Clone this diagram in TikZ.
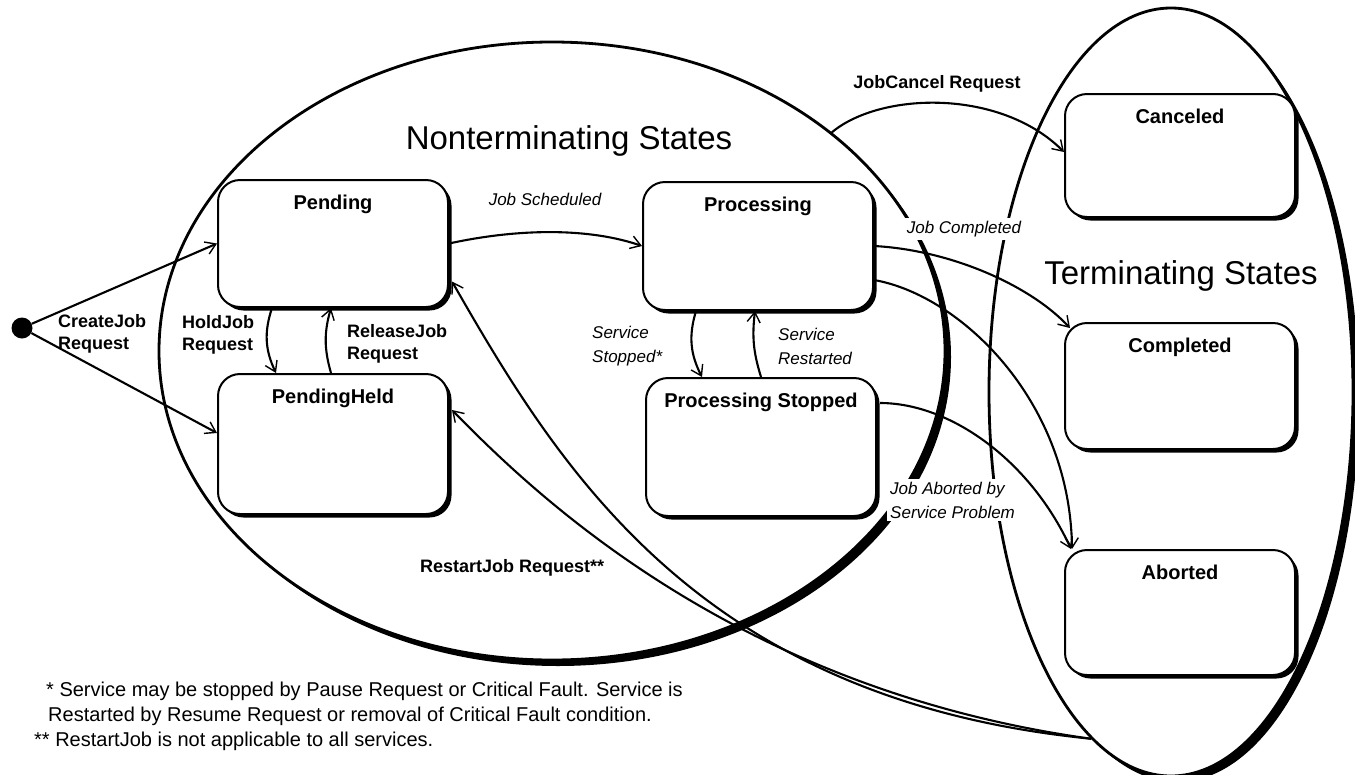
\documentclass[tikz,border=0pt]{standalone}
\usepackage{fontspec}
\setmainfont{Liberation Sans}
\usetikzlibrary{arrows.meta,shadows,shapes.geometric,calc}
\begin{document}
\begin{tikzpicture}[x=1pt,y=-1pt,
  superstate/.style={ellipse, draw, line width=2.8pt, fill=white, inner sep=0pt,
     drop shadow={shadow xshift=6pt, shadow yshift=-6pt, fill=black, opacity=1}},
  statebox/.style={rectangle, draw, line width=2pt, rounded corners=22pt, fill=white,
     minimum width=230pt, inner sep=0pt,
     drop shadow={shadow xshift=3.5pt, shadow yshift=-3.5pt, fill=black, opacity=1}},
  statename/.style={anchor=north, yshift=-16pt, inner sep=0pt,
     font=\fontsize{20}{24}\selectfont\bfseries},
  title/.style={font=\fontsize{33}{38}\selectfont, inner sep=0pt},
  tr/.style={line width=2.1pt, -{Straight Barb[length=10pt,width=13pt,line width=1.4pt]}},
  lb/.style={font=\fontsize{18}{21.5}\selectfont\bfseries, align=left, inner sep=1pt},
  li/.style={font=\fontsize{17}{24}\selectfont\itshape, align=left, inner sep=1pt},
  note/.style={font=\fontsize{20}{24.5}\selectfont, align=left, inner sep=0pt},
  initdot/.style={circle, fill=black, minimum size=21pt, inner sep=0pt}
]
\useasboundingbox (0,0) rectangle (1355,774);
\fill[white] (0,0) rectangle (1355,774);

% super states
\node[superstate, minimum width=786pt, minimum height=618pt] (nonterm) at (552,351) {};
\node[superstate, minimum width=364pt, minimum height=768pt] (term) at (1171,392) {};

\node[title] (ntitle) at (569,141) {Nonterminating States};
\node[title] (ttitle) at (1181,276) {Terminating States};

% states
\node[statebox, minimum height=127pt, label={[statename]north:Pending}] (pending) at (333,243.5) {};
\node[statebox, minimum height=140pt, label={[statename]north:PendingHeld}] (pheld) at (333,444) {};
\node[statebox, minimum height=128pt, label={[statename]north:Processing}] (proc) at (758,246) {};
\node[statebox, minimum height=138pt, label={[statename]north:Processing Stopped}] (pstop) at (761,447) {};
\node[statebox, minimum height=123pt, label={[statename]north:Canceled}] (canceled) at (1180,155.5) {};
\node[statebox, minimum height=126pt, label={[statename]north:Completed}] (completed) at (1180,386) {};
\node[statebox, minimum height=125pt, label={[statename]north:Aborted}] (aborted) at (1180,612.5) {};

\node[initdot] (init) at (22,328) {};

% connectors
\draw[tr] (init) -- (pending.west);
\draw[tr] (init) -- ([yshift=11pt]pheld.west);
\draw[tr] ([xshift=55pt]pending.south west) to[bend right=22] ([xshift=59pt]pheld.north west);
\draw[tr] ([xshift=114pt]pheld.north west) to[bend left=16] ([xshift=114pt]pending.south west);
\draw[tr] (pending.east) .. controls (520,228) and (590,228) .. (proc.west);
\draw[tr] ([xshift=54pt]proc.south west) to[bend right=22] ([xshift=57pt]pstop.north west);
\draw[tr] ([xshift=116pt]pstop.north west) to[bend left=12] ([xshift=113pt]proc.south west);
\draw[tr] (nonterm.38.8) .. controls (880,92) and (1000,88) .. ([yshift=3.5pt]canceled.west);
\draw[tr] (proc.east) .. controls (950,250) and (1030,285) .. ([xshift=6pt,yshift=-6pt]completed.north west);
\draw[tr] ([yshift=-34pt]proc.east) .. controls (960,295) and (1070,400) .. ([xshift=8pt]aborted.north west);
\draw[tr] ([xshift=3pt,yshift=44pt]pstop.east) .. controls (950,403) and (1030,460) .. ([xshift=7pt]aborted.north west);
\draw[tr] (term.257.3) .. controls (700,700) and (560,470) .. ([xshift=3pt,yshift=-38pt]pending.east);
\draw[tr] (term.257.3) .. controls (740,690) and (540,500) .. ([xshift=3pt,yshift=34pt]pheld.east);

% labels
\node[lb, anchor=west] (lcreate) at (57,334) {CreateJob\\Request};
\node[lb, anchor=west] (lhold) at (181,335) {HoldJob\\Request};
\node[lb, anchor=west] (lrelease) at (346,344) {ReleaseJob\\Request};
\node[li, anchor=west] (lsstop) at (591,346) {Service\\Stopped*};
\node[li, anchor=west] (lsrest) at (777,346) {Service\\Restarted};
\node[li] (lsched) at (545,199) {Job Scheduled};
\node[li, fill=white, inner sep=3pt] (lcomp) at (964,229) {Job Completed};
\node[li, anchor=west, fill=white, inner sep=3pt] (labort) at (887,500) {Job Aborted by\\Service Problem};
\node[lb] (lcancel) at (937,84) {JobCancel Request};
\node[lb, anchor=west] (lrestart) at (419,568) {RestartJob Request**};

% notes
\node[note, anchor=west] (note1) at (46,704) {* Service may be stopped by Pause Request or Critical Fault. Service is\\\hspace*{2pt}Restarted by Resume Request or removal of Critical Fault condition.};
\node[note, anchor=west] (note2) at (34,741) {** RestartJob is not applicable to all services.};
\end{tikzpicture}
\end{document}
